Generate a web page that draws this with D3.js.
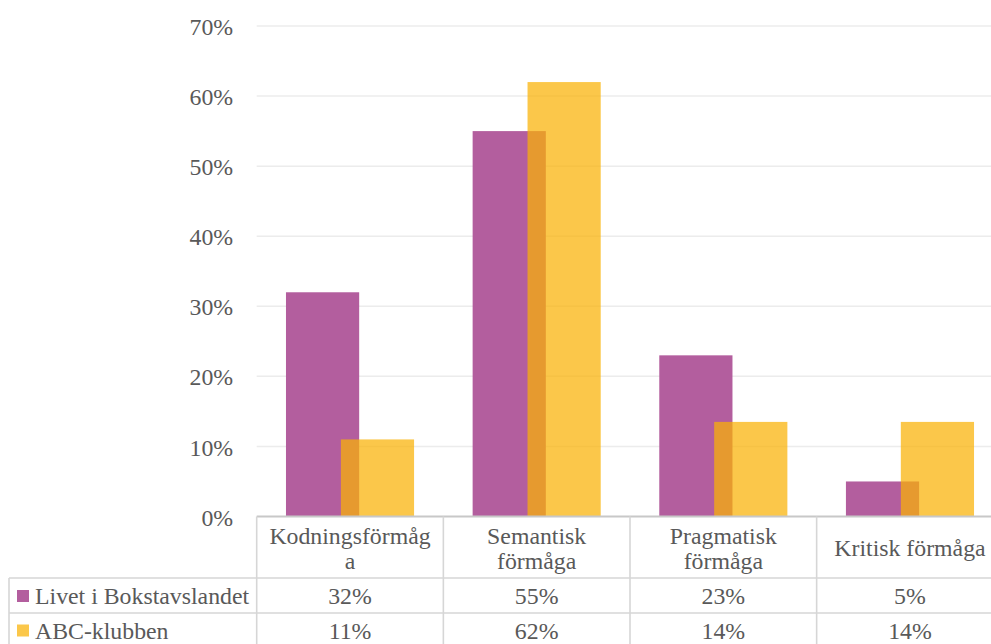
<!DOCTYPE html>
<html>
<head>
<meta charset="utf-8">
<script src="https://cdn.jsdelivr.net/npm/d3@7"></script>
<style>
  html, body { margin: 0; padding: 0; background: #fff; }
  svg { display: block; }
</style>
</head>
<body>
<svg id="chart" width="991" height="644"></svg>
<script>
// ---- data ----
const categories = ["Kodningsförmåga", "Semantisk förmåga", "Pragmatisk förmåga", "Kritisk förmåga"];
const categoryLines = [["Kodningsförmåg", "a"], ["Semantisk", "förmåga"], ["Pragmatisk", "förmåga"], ["Kritisk förmåga"]];
const seriesNames = ["Livet i Bokstavslandet", "ABC-klubben"];
const livetValues = [0.32, 0.55, 0.23, 0.05];
const abcValues = [0.11, 0.62, 0.135, 0.135];
const yTicks = [0, 0.1, 0.2, 0.3, 0.4, 0.5, 0.6, 0.7];

// ---- layout ----
const W = 991, H = 644;
const plotLeft = 256.7, plotRight = 1003.3, plotTop = 26, plotBottom = 516.5;
const FONT = "Liberation Serif";
const fontSize = 23.8;
const textColor = "#595959";
const colors = ["#B35E9E", "rgba(250,178,4,0.72)"];
const gridColor = "#ececec";
const tableColor = "#d6d6d6";
const axisColor = "#c8c8c8";
const seriesValues = [livetValues, abcValues];

const svg = d3.select("#chart");

const x = d3.scaleBand().domain(categories).range([plotLeft, plotRight]).paddingInner(0).paddingOuter(0);
const y = d3.scaleLinear().domain([0, 0.7]).range([plotBottom, plotTop]);

function styleText(sel) {
  return sel.attr("font-family", FONT).attr("font-size", fontSize).attr("fill", textColor);
}

// gridlines
svg.append("g").selectAll("line").data(yTicks.filter(d => d > 0)).join("line")
  .attr("x1", plotLeft).attr("x2", W)
  .attr("y1", d => y(d)).attr("y2", d => y(d))
  .attr("stroke", gridColor).attr("stroke-width", 1.5);

// y axis labels
const yAxis = d3.axisLeft(y).tickValues(yTicks).tickFormat(d3.format(".0%")).tickSize(0).tickPadding(23.5);
const yg = svg.append("g").attr("transform", `translate(${plotLeft},0)`).call(yAxis);
yg.attr("font-family", FONT).attr("font-size", fontSize);
yg.select(".domain").remove();
styleText(yg.selectAll("text")).attr("dy", "0.36em");

// bars (Excel style: gap width 80%, overlap 25%)
const bw = x.bandwidth();
const barW = bw / 2.55;
const gap = 0.4 * barW;
const step = 0.75 * barW;
seriesValues.forEach((vals, si) => {
  svg.append("g").selectAll("rect").data(vals).join("rect")
    .attr("x", (d, i) => x(categories[i]) + gap + si * step)
    .attr("width", barW)
    .attr("y", d => y(d))
    .attr("height", d => y(0) - y(d))
    .attr("fill", colors[si]);
});

// table
const tg = svg.append("g");
const headerBottom = 578, row1Bottom = 613, row2Bottom = 648;
const tableLeft = 9;
tg.append("line").attr("x1", plotLeft).attr("x2", W).attr("y1", plotBottom).attr("y2", plotBottom)
  .attr("stroke", axisColor).attr("stroke-width", 2);
[headerBottom, row1Bottom, row2Bottom].forEach(yy => {
  tg.append("line").attr("x1", tableLeft).attr("x2", W).attr("y1", yy).attr("y2", yy)
    .attr("stroke", tableColor).attr("stroke-width", 1.6);
});
tg.append("line").attr("x1", tableLeft).attr("x2", tableLeft).attr("y1", headerBottom).attr("y2", row2Bottom)
  .attr("stroke", tableColor).attr("stroke-width", 1.6);
categories.forEach(c => {
  tg.append("line").attr("x1", x(c)).attr("x2", x(c)).attr("y1", plotBottom).attr("y2", row2Bottom)
    .attr("stroke", tableColor).attr("stroke-width", 1.6);
});
categories.forEach((c, i) => {
  const lines = categoryLines[i];
  const cx = x(c) + bw / 2;
  const baselines = lines.length === 2 ? [543.5, 568.5] : [555.5];
  lines.forEach((ln, j) => {
    styleText(tg.append("text")).attr("x", cx).attr("y", baselines[j]).attr("text-anchor", "middle").text(ln);
  });
});
const rowBaselines = [604, 638.5];
const fmt = v => Math.round(v * 100 + 1e-9) + "%";
seriesNames.forEach((name, si) => {
  tg.append("rect").attr("x", 17).attr("y", rowBaselines[si] - 14).attr("width", 12).attr("height", 12)
    .attr("fill", colors[si]);
  styleText(tg.append("text")).attr("x", 35).attr("y", rowBaselines[si]).text(name);
  seriesValues[si].forEach((v, i) => {
    styleText(tg.append("text")).attr("x", x(categories[i]) + bw / 2).attr("y", rowBaselines[si])
      .attr("text-anchor", "middle").text(fmt(v));
  });
});
</script>
</body>
</html>
